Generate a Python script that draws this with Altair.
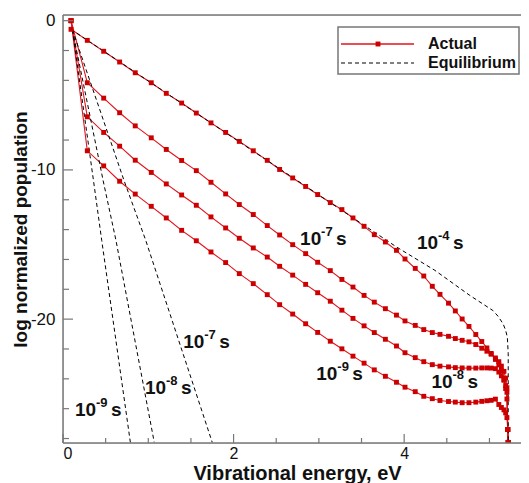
import altair as alt
import pandas as pd

# vibrational level energies (eV)
levels_ev = [0.094, 0.285, 0.477, 0.664, 0.847, 1.035, 1.211, 1.391, 1.563, 1.735,
             1.907, 2.067, 2.231, 2.395, 2.540, 2.693, 2.845, 2.986, 3.134, 3.27,
             3.40, 3.53, 3.65, 3.78, 3.91, 4.01, 4.13, 4.23, 4.33, 4.42,
             4.52, 4.60, 4.68, 4.76, 4.84, 4.91, 4.97, 5.02, 5.07, 5.11,
             5.14, 5.17, 5.19, 5.205, 5.215, 5.22]

actual_1e4 = [-0.58, -1.32, -2.05, -2.77, -3.49, -4.16, -4.87, -5.52, -6.19, -6.85,
              -7.49, -8.09, -8.72, -9.36, -9.97, -10.54, -11.11, -11.65, -12.19, -12.66,
              -13.22, -13.78, -14.34, -14.83, -15.39, -15.97, -16.60, -17.11, -17.80, -18.34,
              -18.93, -19.45, -19.99, -20.49, -21.03, -21.50, -21.93, -22.30, -22.70, -23.07,
              -23.44, -24.05, -24.65, -25.35, -27.40, -28.26]
actual_1e7 = [0.0, -4.16, -5.19, -6.17, -7.05, -7.85, -8.63, -9.37, -10.05, -10.83,
              -11.61, -12.32, -12.99, -13.73, -14.36, -15.01, -15.61, -16.19, -16.75, -17.34,
              -17.85, -18.41, -18.86, -19.30, -19.73, -20.12, -20.42, -20.70, -20.90, -21.02,
              -21.15, -21.30, -21.42, -21.52, -21.70, -21.95, -22.15, -22.35, -22.60, -22.85,
              -23.15, -23.50, -23.95, -24.60, -27.40, -28.26]
actual_1e8 = [0.0, -6.44, -7.49, -8.41, -9.35, -10.17, -10.94, -11.68, -12.37, -13.15,
              -13.89, -14.58, -15.23, -15.84, -16.46, -17.05, -17.67, -18.23, -18.80, -19.40,
              -19.95, -20.45, -20.90, -21.35, -21.80, -22.25, -22.58, -22.85, -23.05, -23.15,
              -23.20, -23.25, -23.27, -23.28, -23.28, -23.27, -23.27, -23.28, -23.32, -23.55,
              -23.80, -24.10, -24.45, -24.90, -27.40, -28.26]
actual_1e9 = [0.0, -8.72, -9.73, -10.76, -11.62, -12.44, -13.22, -14.05, -14.75, -15.50,
              -16.21, -16.95, -17.62, -18.36, -19.03, -19.66, -20.31, -20.89, -21.48, -21.99,
              -22.48, -22.95, -23.40, -23.83, -24.23, -24.56, -24.86, -25.17, -25.33, -25.45,
              -25.52, -25.56, -25.60, -25.60, -25.56, -25.51, -25.47, -25.44, -25.36, -25.72,
              -25.92, -26.08, -26.28, -26.60, -27.40, -28.26]

# equilibrium (dashed) curves
eq4_x = [0.094, 3.912, 4.36, 4.77, 5.04, 5.10, 5.16, 5.19, 5.21, 5.22, 5.22, 5.22]
eq4_y = [-0.58, -15.17, -16.73, -18.41, -19.42, -19.8, -20.31, -20.75, -21.21, -22.32, -23.66, -28.26]
eq7_x = [0.11, 0.715, 0.97, 1.75]
eq7_y = [-0.6, -10.7, -14.72, -28.26]
eq8_x = [0.11, 0.47, 0.621, 1.07]
eq8_y = [-0.6, -10.7, -14.72, -28.26]
eq9_x = [0.11, 0.357, 0.454, 0.79]
eq9_y = [-0.6, -10.7, -14.72, -28.26]

# annotations
label_x = [2.78, 4.15, 2.97, 4.32, 1.41, 0.96, 0.14]
label_y = [-14.6, -14.9, -23.65, -24.2, -21.5, -24.6, -26.1]
label_exp = ["-7", "-4", "-9", "-8", "-7", "-8", "-9"]

# axis ticks
x_major = [0, 2, 4]
x_minor = [0.5, 1, 1.5, 2.5, 3, 3.5, 4.5, 5]
y_major = [0, -10, -20]
y_minor = [-2, -4, -6, -8, -12, -14, -16, -18, -22, -24, -26, -28]

legend_labels = ["Actual", "Equilibrium"]

FONT = "Liberation Sans"
W, H = 458, 428
RED_LINE = "#e3131b"
RED_MARK = "#cc0000"
FRAME = "#777777"

rows = []
for name, ys in [("1e-4", actual_1e4), ("1e-7", actual_1e7), ("1e-8", actual_1e8), ("1e-9", actual_1e9)]:
    for i, (xv, yv) in enumerate(zip(levels_ev, ys)):
        rows.append({"series": name, "idx": i, "x": xv, "y": yv})
df_act = pd.DataFrame(rows)

rows = []
for name, xs_, ys_ in [("e4", eq4_x, eq4_y), ("e7", eq7_x, eq7_y), ("e8", eq8_x, eq8_y), ("e9", eq9_x, eq9_y)]:
    for i, (xv, yv) in enumerate(zip(xs_, ys_)):
        rows.append({"series": name, "idx": i, "x": xv, "y": yv})
df_eq = pd.DataFrame(rows)

df_lab = pd.DataFrame({"x": label_x, "y": label_y, "exp": label_exp})

xs = alt.Scale(domain=[0, 5.37], nice=False, zero=False)
ys = alt.Scale(domain=[-28.3, 0.38], nice=False, zero=False)
xaxis = alt.Axis(values=x_major, title="Vibrational energy, eV", grid=False, ticks=False, domain=False,
                 labelFont=FONT, labelFontSize=16, labelColor="#111", labelPadding=2,
                 titleFont=FONT, titleFontSize=20, titleFontWeight="bold", titleColor="#111",
                 titleBaseline="alphabetic", titleAlign="center", titleX=234, titleY=36)
yaxis = alt.Axis(values=y_major, title="log normalized population", grid=False, ticks=False, domain=False,
                 labelExpr="datum.value < 0 ? '-' + abs(datum.value) : '' + datum.value",
                 labelFont=FONT, labelFontSize=17, labelColor="#111", labelPadding=8,
                 titleFont=FONT, titleFontSize=19, titleFontWeight="bold", titleColor="#111",
                 titleAngle=-90, titleBaseline="alphabetic", titleAlign="center", titleX=-37, titleY=H / 2)

X = alt.X("x:Q", scale=xs, axis=xaxis)
Y = alt.Y("y:Q", scale=ys, axis=yaxis)

red_lines = alt.Chart(df_act).mark_line(color=RED_LINE, strokeWidth=1.1, clip=True).encode(
    x=X, y=Y, detail="series:N", order="idx:Q")
eq_lines = alt.Chart(df_eq).mark_line(color="black", strokeWidth=1, strokeDash=[4, 3], clip=True).encode(
    x=X, y=Y, detail="series:N", order="idx:Q")
squares = alt.Chart(df_act).mark_square(color=RED_MARK, size=24, opacity=1, clip=True).encode(x=X, y=Y)

txt_base = alt.Chart(df_lab).mark_text(font=FONT, fontSize=19, fontWeight="bold", align="left",
                                       baseline="middle", color="#111", text="10").encode(x=X, y=Y)
txt_exp = alt.Chart(df_lab).mark_text(font=FONT, fontSize=13, fontWeight="bold", align="left",
                                      baseline="middle", color="#111", dx=21, dy=-7).encode(x=X, y=Y, text="exp:N")
txt_s = alt.Chart(df_lab).mark_text(font=FONT, fontSize=19, fontWeight="bold", align="left",
                                    baseline="middle", color="#111", dx=36, text="s").encode(x=X, y=Y)

# inward ticks
tx_major = alt.Chart(pd.DataFrame({"x": x_major})).mark_rule(color=FRAME, strokeWidth=1.2).encode(
    x=X, y=alt.value(H), y2=alt.value(H - 9))
tx_minor = alt.Chart(pd.DataFrame({"x": x_minor})).mark_rule(color=FRAME, strokeWidth=1.2).encode(
    x=X, y=alt.value(H), y2=alt.value(H - 5))
ty_major = alt.Chart(pd.DataFrame({"y": y_major})).mark_rule(color=FRAME, strokeWidth=1.2).encode(
    y=Y, x=alt.value(0), x2=alt.value(10))
ty_minor = alt.Chart(pd.DataFrame({"y": y_minor})).mark_rule(color=FRAME, strokeWidth=1.2).encode(
    y=Y, x=alt.value(0), x2=alt.value(6))

one = pd.DataFrame({"a": [0]})
# frame: top, left, bottom (right edge lies outside the picture in the original)
frame_top = alt.Chart(one).mark_rule(color=FRAME, strokeWidth=1.5).encode(
    x=alt.value(0), x2=alt.value(W), y=alt.value(0))
frame_bottom = alt.Chart(one).mark_rule(color=FRAME, strokeWidth=1.5).encode(
    x=alt.value(0), x2=alt.value(W), y=alt.value(H))
frame_left = alt.Chart(one).mark_rule(color=FRAME, strokeWidth=1.5).encode(
    x=alt.value(0), y=alt.value(0), y2=alt.value(H))

# legend
leg_box = alt.Chart(one).mark_rect(fill="white", stroke=FRAME, strokeWidth=1.5).encode(
    x=alt.value(275), x2=alt.value(456), y=alt.value(12), y2=alt.value(59))
leg_red = alt.Chart(one).mark_rule(color=RED_LINE, strokeWidth=1.3).encode(
    x=alt.value(278), x2=alt.value(351), y=alt.value(29))
leg_sq = alt.Chart(one).mark_square(color=RED_MARK, size=24, opacity=1).encode(
    x=alt.value(315), y=alt.value(29))
leg_dash = alt.Chart(one).mark_rule(color="black", strokeWidth=1, strokeDash=[4, 3]).encode(
    x=alt.value(278), x2=alt.value(351), y=alt.value(48))
leg_df = pd.DataFrame({"label": legend_labels, "pos": [29, 48]})
leg_txt = alt.Chart(leg_df).mark_text(font=FONT, fontSize=16, fontWeight="bold", align="left",
                                      baseline="middle", color="#111").encode(
    x=alt.value(365), y=alt.Y("pos:Q", scale=None), text="label:N")

chart = alt.layer(
    red_lines, eq_lines, squares, txt_base, txt_exp, txt_s,
    tx_major, tx_minor, ty_major, ty_minor,
    frame_top, frame_bottom, frame_left,
    leg_box, leg_red, leg_sq, leg_dash, leg_txt
).properties(
    width=W, height=H, autosize="none",
    padding={"left": 55, "top": 7, "right": 0, "bottom": 40}
).configure_view(strokeWidth=0).configure(font=FONT)

chart.save("out.html", embed_options={"renderer": "svg", "actions": False})
